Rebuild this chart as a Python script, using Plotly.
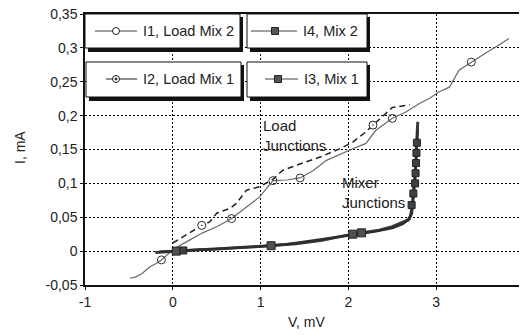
import plotly.graph_objects as go

# ---------------- data ----------------
# I1, Load Mix 2 (thin solid line, open circles)
i1_v = [-0.49, -0.42, -0.35, -0.26, -0.2, -0.13, -0.05, 0.05, 0.2, 0.34, 0.5, 0.67, 0.84, 0.99, 1.14,
        1.3, 1.45, 1.6, 1.75, 1.9, 2.05, 2.2, 2.31, 2.5, 2.65, 2.81, 2.93, 3.03, 3.15, 3.26, 3.4,
        3.56, 3.7, 3.83]
i1_i = [-0.040, -0.038, -0.033, -0.023, -0.019, -0.013, -0.004, 0.006, 0.017, 0.027, 0.036, 0.048,
        0.065, 0.080, 0.104, 0.105, 0.108, 0.119, 0.134, 0.143, 0.151, 0.159, 0.178, 0.196, 0.205,
        0.218, 0.226, 0.235, 0.242, 0.267, 0.279, 0.292, 0.303, 0.314]
i1_mark_v = [-0.13, 0.67, 1.14, 1.45, 2.5, 3.4]
i1_mark_i = [-0.013, 0.048, 0.104, 0.108, 0.196, 0.279]

# I2, Load Mix 1 (dashed line, dotted circles)
i2_v = [0.0, 0.1, 0.21, 0.33, 0.42, 0.5, 0.65, 0.72, 0.84, 0.99, 1.14, 1.25, 1.37, 1.52, 1.7,
        1.9, 2.05, 2.18, 2.28, 2.33, 2.5, 2.7]
i2_i = [0.012, 0.020, 0.028, 0.038, 0.043, 0.056, 0.063, 0.070, 0.090, 0.095, 0.106, 0.119, 0.125,
        0.132, 0.140, 0.151, 0.161, 0.174, 0.186, 0.191, 0.212, 0.216]
i2_mark_v = [0.33, 2.28]
i2_mark_i = [0.038, 0.186]

# I4, Mix 2 (thick line, squares)
i4_v = [-0.2, -0.1, 0.0, 0.1, 0.3, 0.5, 0.8, 1.1, 1.4, 1.7, 2.0, 2.2, 2.35, 2.5, 2.6, 2.68,
        2.72, 2.74, 2.76, 2.77, 2.78, 2.79]
i4_i = [-0.002, -0.001, 0.0, 0.001, 0.002, 0.003, 0.005, 0.008, 0.011, 0.016, 0.024, 0.028, 0.031,
        0.036, 0.041, 0.046, 0.055, 0.080, 0.110, 0.140, 0.170, 0.191]
i4_mark_v = [0.04, 1.12, 2.05, 2.15]
i4_mark_i = [0.0, 0.008, 0.025, 0.027]

# I3, Mix 1 (thick line, squares)
i3_v = [-0.15, 0.0, 0.2, 0.5, 0.9, 1.3, 1.7, 2.0, 2.3, 2.5, 2.62, 2.7, 2.73, 2.75, 2.77, 2.78, 2.79]
i3_i = [-0.001, 0.0, 0.002, 0.004, 0.006, 0.010, 0.017, 0.023, 0.029, 0.034, 0.040, 0.048, 0.070,
        0.100, 0.130, 0.160, 0.180]
i3_mark_v = [0.12, 2.72, 2.74, 2.76, 2.765, 2.77, 2.775, 2.78]
i3_mark_i = [0.001, 0.068, 0.085, 0.100, 0.115, 0.130, 0.145, 0.160]

x_ticks = [-1, 0, 1, 2, 3, 4]
x_ticktext = ["-1", "0", "1", "2", "3", "4"]
y_ticks = [-0.05, 0, 0.05, 0.1, 0.15, 0.2, 0.25, 0.3, 0.35]
y_ticktext = ["-0,05", "0", "0,05", "0,1", "0,15", "0,2", "0,25", "0,3", "0,35"]

legend_names = ["I1, Load Mix 2", "I4, Mix 2", "I2, Load Mix 1", "I3, Mix 1"]

# ---------------- layout geometry ----------------
# page body has an 8px default margin, so the figure is drawn 8px in from the window corner
OFF = 8
WIN_W, WIN_H = 527, 335
PL, PT, PR, PB = 85, 14, 524, 285          # plot area in window pixels
W, H = WIN_W - OFF, WIN_H - OFF
L, T = PL - OFF, PT - OFF
R, B = W - (PR - OFF), H - (PB - OFF)
PW, PH = PR - PL, PB - PT

def px(x):
    return (x - PL) / PW

def py(y):
    return (PB - y) / PH

FONT = "Liberation Sans, Arial, sans-serif"

fig = go.Figure()

fig.add_trace(go.Scatter(x=i1_v, y=i1_i, mode="lines", line=dict(color="#6a6a6a", width=1.2),
                         showlegend=False))
fig.add_trace(go.Scatter(x=i1_mark_v, y=i1_mark_i, mode="markers",
                         marker=dict(symbol="circle-open", size=8, color="#333", line=dict(width=1)),
                         showlegend=False))
fig.add_trace(go.Scatter(x=i2_v, y=i2_i, mode="lines",
                         line=dict(color="#222", width=1.5, dash="6px,4px"), showlegend=False))
fig.add_trace(go.Scatter(x=i2_mark_v, y=i2_mark_i, mode="markers",
                         marker=dict(symbol="circle-dot", size=8, color="white",
                                     line=dict(width=1, color="#222")),
                         showlegend=False))
fig.add_trace(go.Scatter(x=i4_v, y=i4_i, mode="lines", line=dict(color="#3a3a3a", width=3),
                         showlegend=False))
fig.add_trace(go.Scatter(x=i3_v, y=i3_i, mode="lines", line=dict(color="#2e2e2e", width=2.5),
                         showlegend=False))
fig.add_trace(go.Scatter(x=i4_mark_v, y=i4_mark_i, mode="markers",
                         marker=dict(symbol="square", size=8, color="#505050",
                                     line=dict(width=1, color="#222")), showlegend=False))
fig.add_trace(go.Scatter(x=i3_mark_v, y=i3_mark_i, mode="markers",
                         marker=dict(symbol="square", size=7, color="#404040",
                                     line=dict(width=1, color="#222")), showlegend=False))

shapes = []
annotations = []

# legend boxes: (left, top, right, bottom) in window pixels
boxes = [(85, 14, 240, 48), (247, 14, 367, 48), (86, 62, 241, 97), (247, 62, 367, 97)]
for (x0, y0, x1, y1) in boxes:
    shapes.append(dict(type="rect", xref="paper", yref="paper",
                       x0=px(x0 + 3), x1=px(x1 + 3), y0=py(y1 + 4), y1=py(y0 + 3),
                       fillcolor="#111", line=dict(width=0), layer="above"))
    shapes.append(dict(type="rect", xref="paper", yref="paper",
                       x0=px(x0), x1=px(x1), y0=py(y1), y1=py(y0),
                       fillcolor="white", line=dict(color="#111", width=1), layer="above"))

# legend samples
samples = [
    (95, 137, 31, 116, "circle"),
    (251, 297, 31, 275, "square"),
    (106, 137, 79, 116, "circledot"),
    (265, 298, 79, 278, "square"),
]
for (lx0, lx1, ly, mx, kind) in samples:
    shapes.append(dict(type="line", xref="paper", yref="paper", x0=px(lx0), x1=px(lx1),
                       y0=py(ly), y1=py(ly), line=dict(color="#444", width=1.2), layer="above"))
    if kind == "square":
        shapes.append(dict(type="rect", xref="paper", yref="paper", x0=px(mx - 3.5), x1=px(mx + 3.5),
                           y0=py(ly + 3.5), y1=py(ly - 3.5), fillcolor="#555",
                           line=dict(color="#222", width=1), layer="above"))
    else:
        shapes.append(dict(type="circle", xref="paper", yref="paper", x0=px(mx - 3.5), x1=px(mx + 3.5),
                           y0=py(ly + 3.5), y1=py(ly - 3.5), fillcolor="white",
                           line=dict(color="#222", width=1), layer="above"))
        if kind == "circledot":
            shapes.append(dict(type="circle", xref="paper", yref="paper", x0=px(mx - 1), x1=px(mx + 1),
                               y0=py(ly + 1), y1=py(ly - 1), fillcolor="#222",
                               line=dict(color="#222", width=1), layer="above"))

text_pos = [(141, 31), (301, 31), (141, 79), (302, 79)]
for name, (tx, ty) in zip(legend_names, text_pos):
    annotations.append(dict(text=name, xref="paper", yref="paper", x=px(tx), y=py(ty),
                            xanchor="left", yanchor="middle", showarrow=False,
                            font=dict(family=FONT, size=14.5, color="#222")))

# curve labels
annotations.append(dict(text="Load<br>Junctions", xref="paper", yref="paper", x=px(261), y=py(115),
                        xanchor="left", yanchor="top", align="left", showarrow=False,
                        font=dict(family=FONT, size=15, color="#222")))
annotations.append(dict(text="Mixer<br>Junctions", xref="paper", yref="paper", x=px(340), y=py(172),
                        xanchor="left", yanchor="top", align="left", showarrow=False,
                        font=dict(family=FONT, size=15, color="#222")))

# axis titles
annotations.append(dict(text="V, mV", xref="paper", yref="paper", x=px(306), y=py(322),
                        xanchor="center", yanchor="middle", showarrow=False,
                        font=dict(family=FONT, size=14, color="#222")))
annotations.append(dict(text="I, mA", xref="paper", yref="paper", x=px(20), y=py(148),
                        xanchor="center", yanchor="middle", textangle=-90, showarrow=False,
                        font=dict(family=FONT, size=14, color="#222")))

fig.update_layout(
    width=W, height=H,
    margin=dict(l=L, r=R, t=T, b=B, autoexpand=False),
    paper_bgcolor="white", plot_bgcolor="white",
    shapes=shapes, annotations=annotations,
    showlegend=False,
    font=dict(family=FONT, size=13, color="#222"),
)
fig.update_xaxes(range=[-1, 4], tickvals=x_ticks, ticktext=x_ticktext, automargin=False,
                 ticklabeloverflow="allow",
                 showgrid=True, gridcolor="#000", griddash="2px,2px", gridwidth=1,
                 showline=True, linecolor="#111", linewidth=1.5, mirror=True,
                 ticks="outside", ticklen=3, tickcolor="#111", zeroline=False,
                 tickfont=dict(family=FONT, size=14, color="#222"))
fig.update_yaxes(range=[-0.05, 0.35], tickvals=y_ticks, ticktext=y_ticktext, automargin=False,
                 ticklabeloverflow="allow",
                 showgrid=True, gridcolor="#000", griddash="2px,2px", gridwidth=1,
                 showline=True, linecolor="#111", linewidth=1.5, mirror=False,
                 ticks="outside", ticklen=3, tickcolor="#111", zeroline=False,
                 tickfont=dict(family=FONT, size=14, color="#222"))

fig.write_html("out.html")
